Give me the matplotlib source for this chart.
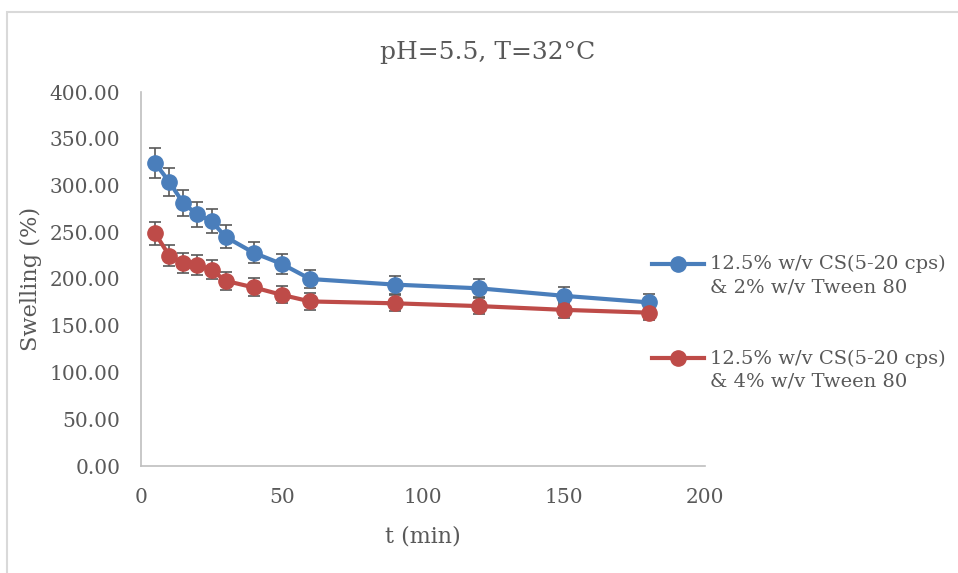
import matplotlib
matplotlib.use("Agg")
import matplotlib.pyplot as plt
import numpy as np
from matplotlib.patches import Rectangle
from matplotlib.legend_handler import HandlerLine2D

# Swelling (%) vs time at pH 5.5, 32 °C
t_min = [5, 10, 15, 20, 25, 30, 40, 50, 60, 90, 120, 150, 180]
swelling_tw2 = [324, 304, 281, 269, 262, 245, 228, 216, 200, 194, 190, 182, 175]
swelling_tw4 = [249, 225, 217, 215, 210, 198, 191, 183, 176, 174, 171, 167, 164]
err_frac = 0.05  # 5% error bars

labels = ["12.5% w/v CS(5-20 cps)\n& 2% w/v Tween 80",
          "12.5% w/v CS(5-20 cps)\n& 4% w/v Tween 80"]
colors = ["#4A7EBB", "#BE4B48"]
x_ticks = [0, 50, 100, 150, 200]
y_ticks = [0, 50, 100, 150, 200, 250, 300, 350, 400]

txt = "#595959"
plt.rcParams["font.family"] = ["DejaVu Serif"]

W, H = 958, 573
fig = plt.figure(figsize=(W / 100, H / 100), dpi=100)

# chart-area border
fig.patches.append(Rectangle((7 / W, -0.1), 1.2, 1 - 12 / H + 0.1,
                             transform=fig.transFigure, fill=False,
                             edgecolor="#D9D9D9", lw=1.5))

ax = fig.add_axes([141 / W, (H - 466) / H, (705 - 141) / W, (466 - 92) / H])

for ys, lab, c in zip([swelling_tw2, swelling_tw4], labels, colors):
    ys = np.array(ys, dtype=float)
    ax.errorbar(t_min, ys, yerr=ys * err_frac, fmt="none", ecolor="#595959",
                elinewidth=1.2, capsize=4.3, capthick=1.2, zorder=2)
    ax.plot(t_min, ys, color=c, lw=3, marker="o", ms=11, label=lab, zorder=3)

ax.set_xlim(0, 200)
ax.set_ylim(0, 400)
ax.set_xticks(x_ticks)
ax.set_yticks(y_ticks)
ax.set_yticklabels([f"{v:.2f}" for v in y_ticks])
ax.tick_params(length=0, labelsize=14.5, colors=txt, pad=15)
ax.tick_params(axis="x", pad=16)
for s in ["top", "right"]:
    ax.spines[s].set_visible(False)
for s in ["left", "bottom"]:
    ax.spines[s].set_color("#BFBFBF")
    ax.spines[s].set_linewidth(1.2)

ax.set_xlabel("t (min)", fontsize=16, color=txt, labelpad=13)
ax.set_ylabel("Swelling (%)", fontsize=16.2, color=txt, labelpad=5)
fig.text(488 / W, 1 - 52 / H, "pH=5.5, T=32°C", fontsize=18, color=txt,
         ha="center", va="center")


class TopLineHandler(HandlerLine2D):
    """Legend handle aligned with the first line of a two-line label."""
    def create_artists(self, legend, orig_handle, xdescent, ydescent,
                       width, height, fontsize, trans):
        arts = super().create_artists(legend, orig_handle, xdescent, ydescent,
                                      width, height, fontsize, trans)
        shift = 0.62 * fontsize
        for a in arts:
            x, y = a.get_data()
            a.set_data(x, np.asarray(y) + shift)
        return arts


leg = fig.legend(loc="upper left", bbox_to_anchor=(642 / W, 1 - 245 / H),
                 frameon=False, fontsize=14, handlelength=2.7,
                 handletextpad=0.3, labelspacing=2.75, borderpad=0,
                 handler_map={matplotlib.lines.Line2D: TopLineHandler()})
for tx in leg.get_texts():
    tx.set_color(txt)
    tx.set_linespacing(1.36)

fig.savefig("out.png", dpi=100)
